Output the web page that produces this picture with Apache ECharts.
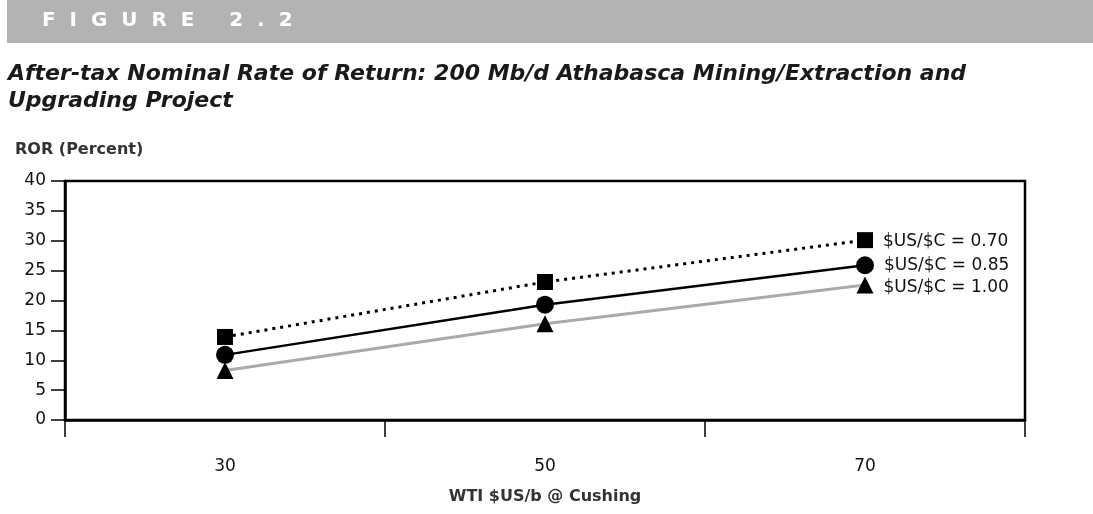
<!DOCTYPE html>
<html><head><meta charset="utf-8">
<script src="https://cdn.jsdelivr.net/npm/echarts@6/dist/echarts.min.js"></script>
<style>html,body{margin:0;padding:0;background:#fff}#c{width:1093px;height:514px}</style>
</head><body><div id="c"></div>
<script>
var categories = ['30', '50', '70'];
var ror070 = [13.9, 23.1, 30.1];
var ror085 = [10.9, 19.3, 25.9];
var ror100 = [8.3, 16.1, 22.6];
var seriesNames = ['$US/$C = 0.70', '$US/$C = 0.85', '$US/$C = 1.00'];
var yTicks = [0, 40, 5];

var FONT = 'DejaVu Sans';
var chart = echarts.init(document.getElementById('c'));
function lastLabel(name, dy) {
  return {
    show: true, position: 'right', distance: 10, offset: [0, dy],
    formatter: function (p) { return p.dataIndex === 2 ? name : ''; },
    fontFamily: FONT, fontSize: 17, color: '#111'
  };
}
chart.setOption({
  animation: false,
  graphic: [
    {type: 'rect', shape: {x: 7, y: 0, width: 1086, height: 43}, style: {fill: '#b3b3b3'}},
    {type: 'text', x: 42, y: 21, style: {text: 'F  I  G  U  R  E     2  .  2', fill: '#fff', font: 'bold 20px "' + FONT + '"', textVerticalAlign: 'middle'}},
    {type: 'text', x: 8, y: 61, style: {text: 'After-tax Nominal Rate of Return: 200 Mb/d Athabasca Mining/Extraction and\nUpgrading Project', fill: '#1a1a1a', font: 'italic bold 22px "' + FONT + '"', lineHeight: 27}},
    {type: 'text', x: 15, y: 150, style: {text: 'ROR (Percent)', fill: '#333', font: 'bold 16px "' + FONT + '"', textVerticalAlign: 'middle'}},
    {type: 'text', x: 545, y: 497, style: {text: 'WTI $US/b @ Cushing', fill: '#333', font: 'bold 16px "' + FONT + '"', textAlign: 'center', textVerticalAlign: 'middle'}}
  ],
  grid: {left: 65, right: 68, top: 181, bottom: 94, show: true, borderColor: '#000', borderWidth: 2.5, backgroundColor: 'transparent'},
  xAxis: {
    type: 'category', data: categories, boundaryGap: true,
    axisLine: {lineStyle: {color: '#000', width: 2.5}},
    axisTick: {show: true, length: 17, lineStyle: {color: '#000', width: 1.5}},
    axisLabel: {margin: 38, fontFamily: FONT, fontSize: 17, color: '#111'}
  },
  yAxis: {
    type: 'value', min: yTicks[0], max: yTicks[1], interval: yTicks[2],
    splitLine: {show: false},
    axisLine: {show: true, lineStyle: {color: '#000', width: 2.5}},
    axisTick: {show: true, length: 14, lineStyle: {color: '#000', width: 1.5}},
    axisLabel: {margin: 19, fontFamily: FONT, fontSize: 17, color: '#111'}
  },
  series: [
    {name: seriesNames[0], type: 'line', data: ror070, symbol: 'rect', symbolSize: 16,
     itemStyle: {color: '#000'}, lineStyle: {color: '#000', width: 3, type: [3, 5]}, label: lastLabel(seriesNames[0], 1), z: 3},
    {name: seriesNames[1], type: 'line', data: ror085, symbol: 'circle', symbolSize: 18,
     itemStyle: {color: '#000'}, lineStyle: {color: '#000', width: 2.5}, label: lastLabel(seriesNames[1], 0), z: 3},
    {name: seriesNames[2], type: 'line', data: ror100, symbol: 'triangle', symbolSize: 17,
     itemStyle: {color: '#000'}, lineStyle: {color: '#aaa', width: 3}, label: lastLabel(seriesNames[2], 3), z: 2}
  ]
});
</script></body></html>
